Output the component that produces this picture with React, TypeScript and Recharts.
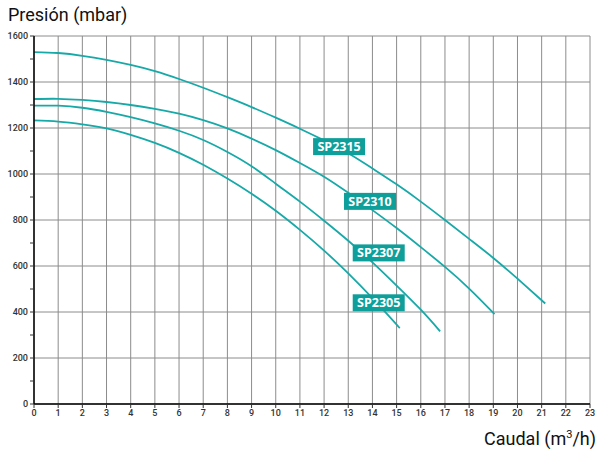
import {
  LineChart,
  Line,
  XAxis,
  YAxis,
  CartesianGrid,
  ReferenceDot,
} from "recharts";

// flow (m3/h) and pressure (mbar)
const flowSP2315 = [0, 1, 2, 3, 4, 5, 6, 7, 8, 9, 10, 11, 12, 13, 14, 15, 16, 17, 18, 19, 20, 21.15];
const presSP2315 = [1530, 1526, 1514, 1496, 1474, 1447, 1413, 1375, 1334, 1291, 1245, 1197, 1146, 1090, 1024, 955, 880, 800, 718, 635, 545, 437];

const flowSP2310 = [0, 1, 2, 3, 4, 5, 6, 7, 8, 9, 10, 11, 12, 13, 14, 15, 16, 17, 18, 19.05];
const presSP2310 = [1326, 1327, 1322, 1313, 1300, 1283, 1262, 1234, 1198, 1154, 1104, 1048, 988, 918, 843, 765, 682, 596, 502, 391];

const flowSP2307 = [0, 1, 2, 3, 4, 5, 6, 7, 8, 9, 10, 11, 12, 13, 14, 15, 16, 16.8];
const presSP2307 = [1297, 1297, 1288, 1270, 1247, 1220, 1188, 1148, 1096, 1034, 958, 880, 797, 710, 616, 515, 410, 316];

const flowSP2305 = [0, 1, 2, 3, 4, 5, 6, 7, 8, 9, 10, 11, 12, 13, 14, 15.13];
const presSP2305 = [1233, 1228, 1216, 1198, 1170, 1135, 1092, 1040, 980, 914, 840, 757, 667, 568, 460, 330];

const models = ["SP2315", "SP2310", "SP2307", "SP2305"];
const labelFlow = [12.62, 13.9, 14.26, 14.26];
const labelPres = [1119, 881, 657, 440];

const xTicks = [0, 1, 2, 3, 4, 5, 6, 7, 8, 9, 10, 11, 12, 13, 14, 15, 16, 17, 18, 19, 20, 21, 22, 23];
const xMinorTicks = [
  0, 0.5, 1, 1.5, 2, 2.5, 3, 3.5, 4, 4.5, 5, 5.5, 6, 6.5, 7, 7.5, 8, 8.5, 9, 9.5, 10, 10.5, 11, 11.5,
  12, 12.5, 13, 13.5, 14, 14.5, 15, 15.5, 16, 16.5, 17, 17.5, 18, 18.5, 19, 19.5, 20, 20.5, 21, 21.5,
  22, 22.5, 23,
];
const yTicks = [0, 100, 200, 300, 400, 500, 600, 700, 800, 900, 1000, 1100, 1200, 1300, 1400, 1500, 1600];
const yGrid = [0, 200, 400, 600, 800, 1000, 1200, 1400, 1600];

const toPoints = (xs: number[], ys: number[]) => xs.map((q, i) => ({ q, p: ys[i] }));
const series = [
  toPoints(flowSP2315, presSP2315),
  toPoints(flowSP2310, presSP2310),
  toPoints(flowSP2307, presSP2307),
  toPoints(flowSP2305, presSP2305),
];

const LINE = "#17a9a8";
const BOX = "#0e9f9b";

const tagShape = (name: string) => (props: any) => {
  const { cx, cy } = props;
  return (
    <g>
      <rect x={cx - 26} y={cy - 8.5} width={52} height={17} fill={BOX} />
      <text
        x={cx}
        y={cy + 4.5}
        textAnchor="middle"
        fill="#fff"
        fontFamily="'Open Sans', sans-serif"
        fontWeight={700}
        fontSize={12.5}
      >
        {name}
      </text>
    </g>
  );
};

export default function App() {
  return (
    <div style={{ position: "absolute", left: 0, top: 0, width: 598, height: 454, background: "#fff", fontFamily: "Roboto, sans-serif" }}>
      <div style={{ position: "absolute", left: 8, top: 4, fontSize: 18, color: "#111" }}>Presión (mbar)</div>
      <div style={{ position: "absolute", right: 2, top: 428, fontSize: 18, color: "#111" }}>
        Caudal (m<sup style={{ fontSize: 11 }}>3</sup>/h)
      </div>
      <LineChart width={598} height={454} data={series[0]} margin={{ top: 36, right: 8, bottom: 30, left: 0 }}>
        <CartesianGrid
          stroke="#8c8c8c"
          strokeWidth={1}
          verticalValues={xTicks}
          horizontalValues={yGrid}
        />
        <XAxis
          xAxisId="minor"
          dataKey="q"
          type="number"
          domain={[0, 23]}
          ticks={xMinorTicks}
          tick={false}
          tickLine={{ stroke: "#333" }}
          tickSize={3}
          axisLine={false}
          height={0}
        />
        <XAxis
          dataKey="q"
          type="number"
          domain={[0, 23]}
          ticks={xTicks}
          interval={0}
          tickSize={4}
          tickMargin={2}
          axisLine={{ stroke: "#000", strokeWidth: 1.5 }}
          tickLine={{ stroke: "#333" }}
          tick={{ fontSize: 9, fill: "#333", fontFamily: "Roboto", fontWeight: 500 }}
          height={20}
        />
        <YAxis
          dataKey="p"
          type="number"
          domain={[0, 1600]}
          ticks={yTicks}
          interval={0}
          tickSize={4}
          tickMargin={2}
          width={34}
          axisLine={{ stroke: "#000", strokeWidth: 1.5 }}
          tickLine={{ stroke: "#333" }}
          tickFormatter={(v: number) => (v % 200 === 0 ? String(v) : "")}
          tick={{ fontSize: 9, fill: "#333", fontFamily: "Roboto", fontWeight: 500 }}
        />
        {series.map((pts, i) => (
          <Line
            key={models[i]}
            data={pts}
            dataKey="p"
            type="natural"
            stroke={LINE}
            strokeWidth={1.8}
            dot={false}
            isAnimationActive={false}
          />
        ))}
        {models.map((m, i) => (
          <ReferenceDot key={m} x={labelFlow[i]} y={labelPres[i]} shape={tagShape(m)} />
        ))}
      </LineChart>
    </div>
  );
}
